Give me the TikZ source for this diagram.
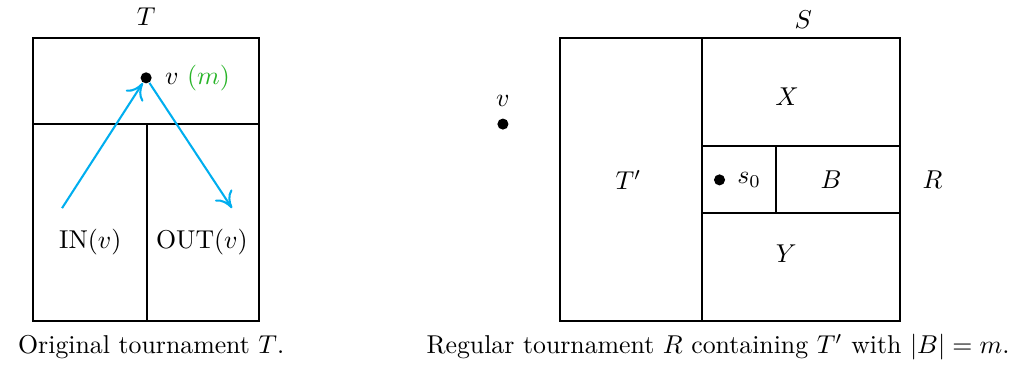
\documentclass[tikz,border=0pt]{standalone}
\usepackage{amsmath}
\usepackage{tikz}
\usetikzlibrary{arrows.meta,positioning}
\definecolor{arrowblue}{RGB}{0,174,239}
\definecolor{mgreen}{RGB}{40,180,40}
\tikzset{
  vdot/.style={circle, fill=black, inner sep=0pt, minimum size=4.3pt},
  part/.style={thick},
  flow/.style={-{To[length=2.2mm,width=2.8mm]}, thick, arrowblue}
}

\begin{document}
\begin{tikzpicture}
  \useasboundingbox (0,0) rectangle (13.92,4.96);

  % --- Original tournament T ---
  \draw[part] (0.45,0.586) rectangle (3.53,4.44);
  \draw[part] (0.45,3.27) -- (3.53,3.27);
  \draw[part] (2.0,3.27) -- (2.0,0.586);
  \node (T) at (1.99,4.73) {$T$};
  \node[vdot] (v) at (1.99,3.90) {};
  \node[right=1.5pt of v] (vlab) {$v$ \textcolor{mgreen}{$(m)$}};
  \node (in) at (1.23,1.66) {$\mathrm{IN}(v)$};
  \node (out) at (2.75,1.66) {$\mathrm{OUT}(v)$};
  % in- and out-arcs of v
  \coordinate (inv) at (0.845,2.125);
  \coordinate (outv) at (3.16,2.125);
  \draw[flow] (inv) -- (v);
  \draw[flow] (v) -- (outv);
  \node (capT) at (2.06,0.23) {Original tournament $T$.};

  % --- Regular tournament R ---
  \draw[part] (7.63,0.586) rectangle (12.26,4.44);
  \draw[part] (9.56,0.586) -- (9.56,4.44);
  \draw[part] (9.56,2.97) -- (12.26,2.97);
  \draw[part] (9.56,2.06) -- (12.26,2.06);
  \draw[part] (10.57,2.06) -- (10.57,2.97);
  \node (S) at (10.94,4.69) {$S$};
  \node (X) at (10.72,3.64) {$X$};
  \node (Tp) at (8.56,2.51) {$T'$};
  \node[vdot] (s0) at (9.80,2.51) {};
  \node[right=1pt of s0] (s0lab) {$s_0$};
  \node (B) at (11.32,2.51) {$B$};
  \node (Y) at (10.71,1.50) {$Y$};
  \node (R) at (12.70,2.51) {$R$};
  \node[vdot] (w) at (6.85,3.27) {};
  \node[above=1pt of w] (wlab) {$v$};
  \node (capR) at (9.78,0.23) {Regular tournament $R$ containing $T'$ with $|B| = m$.};
\end{tikzpicture}
\end{document}
